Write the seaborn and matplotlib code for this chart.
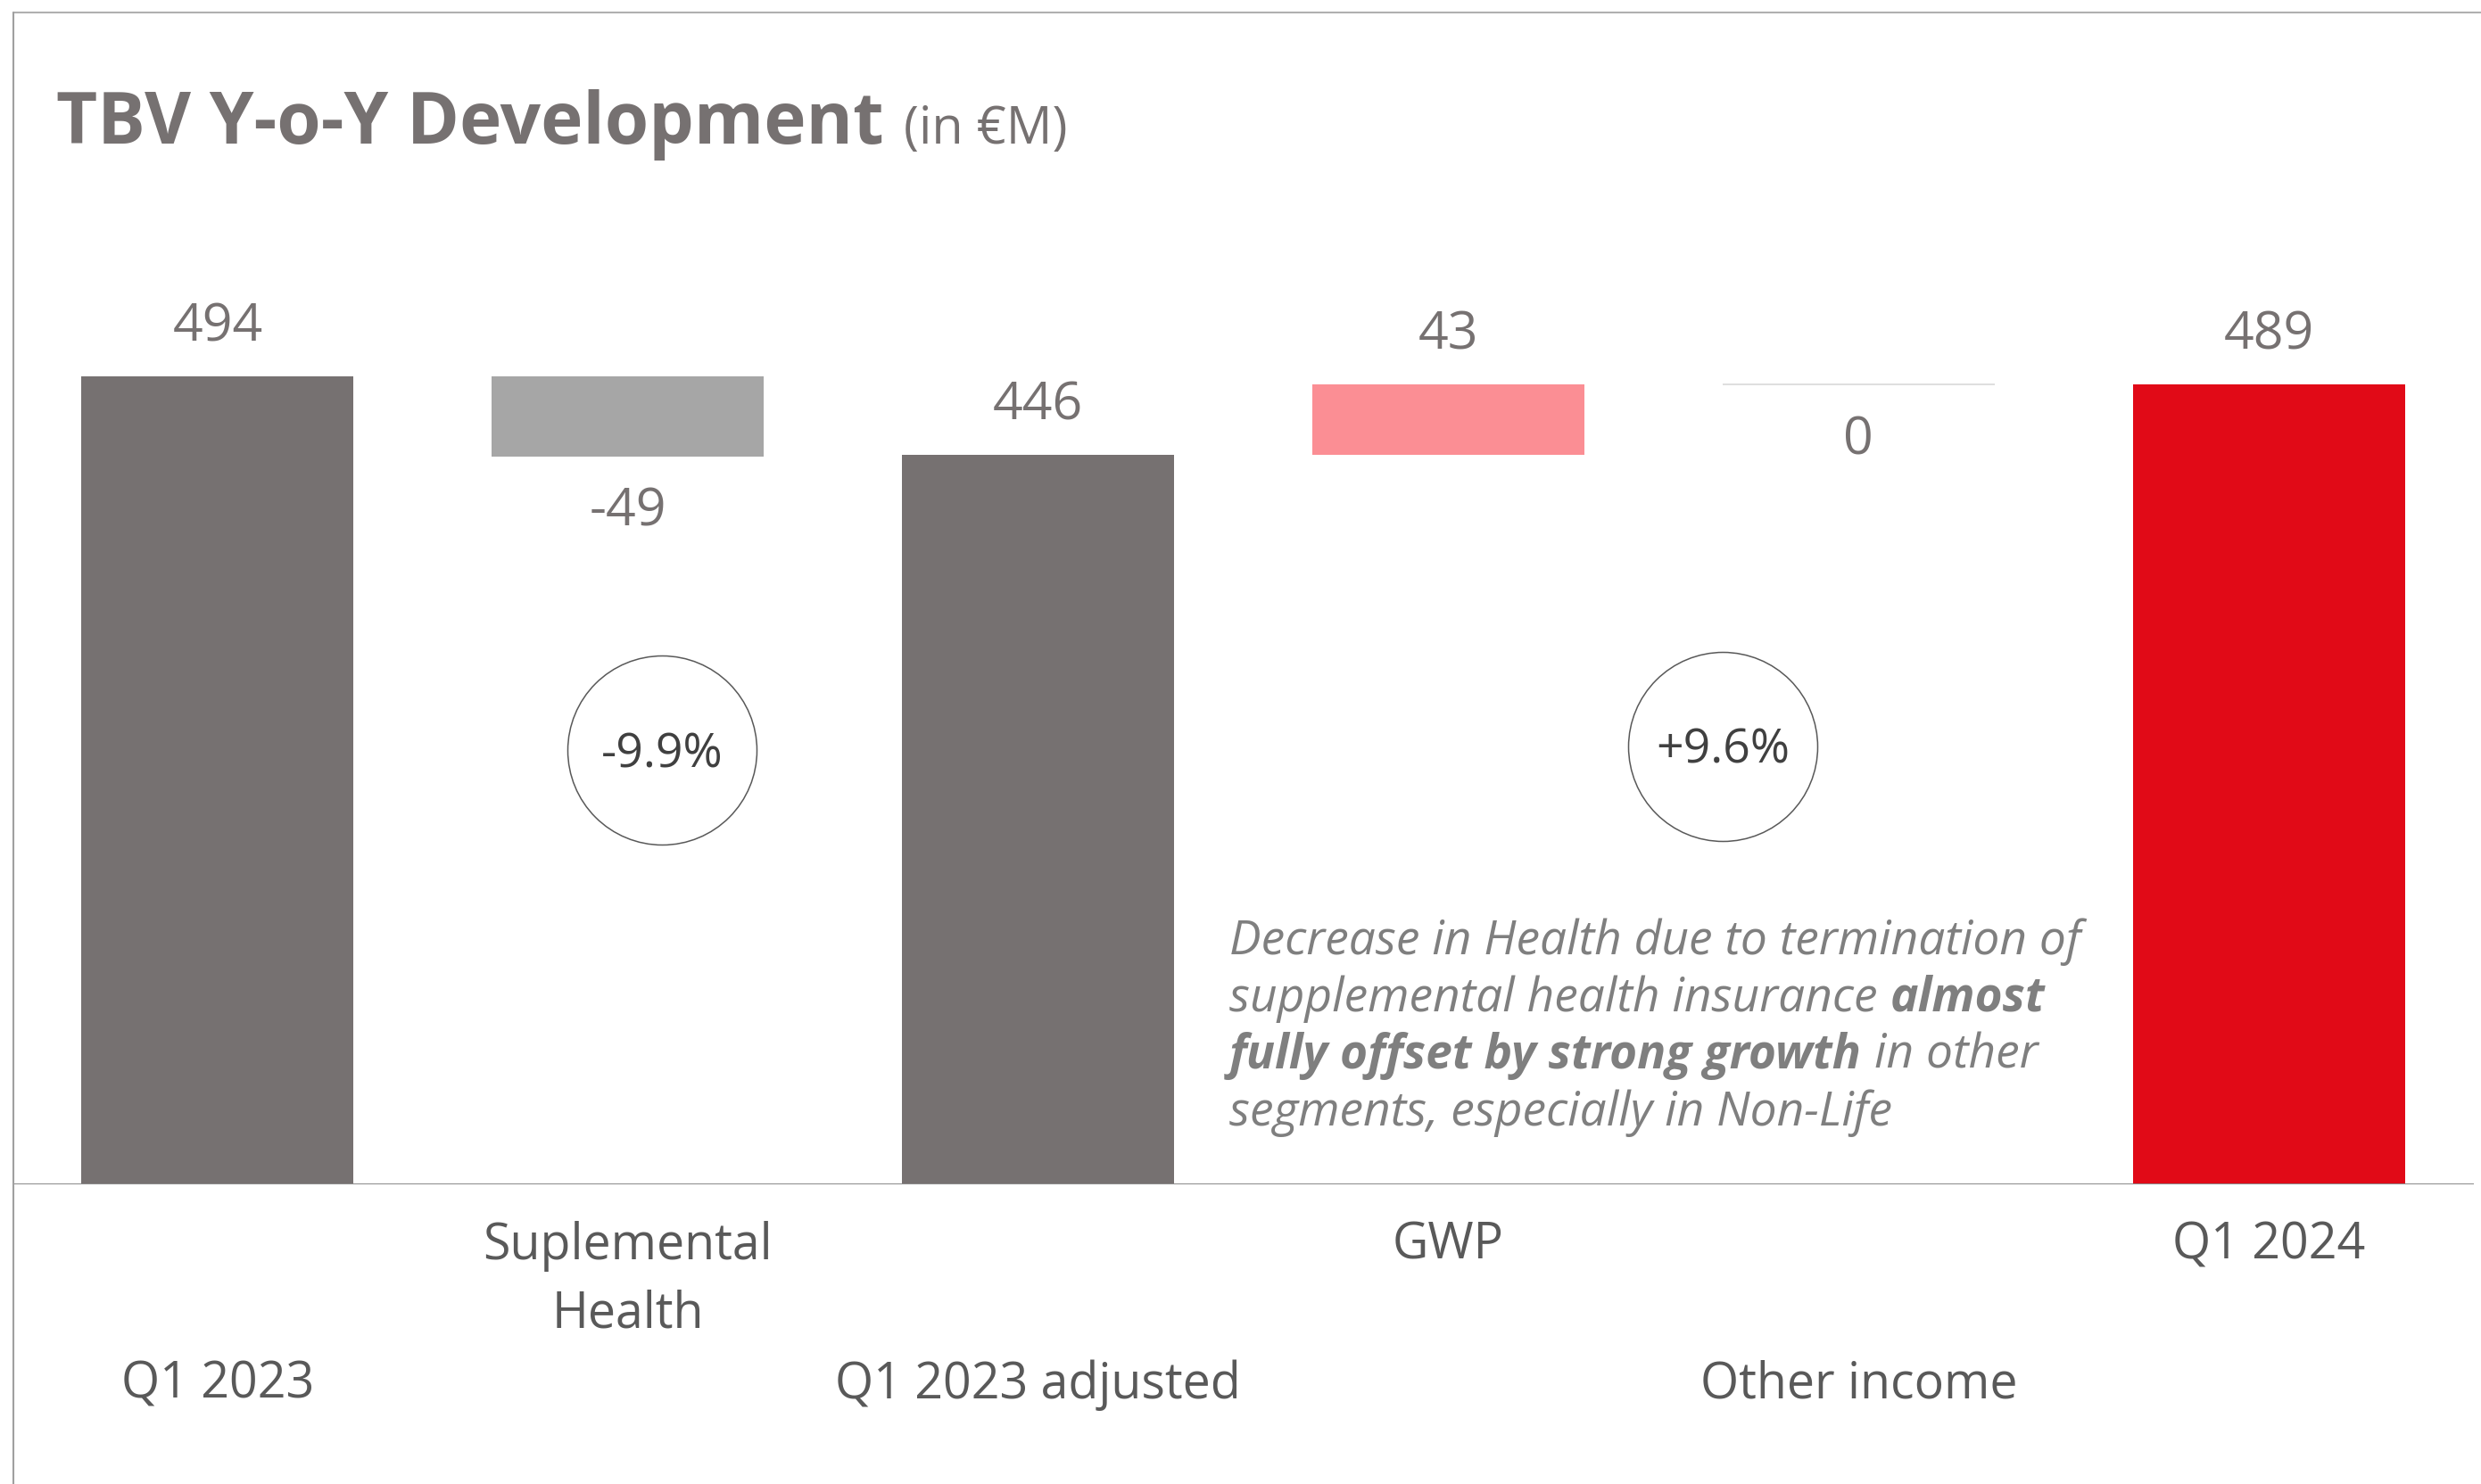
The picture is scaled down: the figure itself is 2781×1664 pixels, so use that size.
import matplotlib
matplotlib.use('Agg')
import matplotlib.pyplot as plt
from matplotlib.lines import Line2D
import pandas as pd
import seaborn as sns

# data
categories = ['Q1 2023', 'Suplemental\nHealth', 'Q1 2023 adjusted', 'GWP', 'Other income', 'Q1 2024']
values = [494, -49, 446, 43, 0, 489]
kinds = ['total', 'delta', 'total', 'delta', 'delta', 'total']
value_labels = ['494', '-49', '446', '43', '0', '489']
bar_colors = ['#767171', '#a6a6a6', '#767171', '#fb8e94', '#d9d9d9', '#e10a17']
changes = ['-9.9%', '+9.6%']
title = 'TBV Y-o-Y Development'
unit = '(in €M)'
note_lines = [
    [('Decrease in Health due to termination of', False)],
    [('supplemental health insurance', False), ('almost', True)],
    [('fully offset by strong growth', True), ('in other', False)],
    [('segments, especially in Non-Life', False)],
]

# waterfall geometry
bottoms, heights = [], []
running = 0
for v, k in zip(values, kinds):
    if k == 'total':
        bottoms.append(0)
        heights.append(v)
        running = v
    else:
        bottoms.append(min(running, running + v))
        heights.append(abs(v))
        running += v
df = pd.DataFrame({'category': categories, 'height': heights})

sns.set_theme(style='white')
plt.rcParams['font.family'] = ['Open Sans', 'DejaVu Sans']

W, H = 2781, 1665
fig = plt.figure(figsize=(W / 100, H / 100), dpi=100)


def fx(px):
    return px / W


def fy(py):
    return 1 - py / H


ax = fig.add_axes([fx(14), fy(1329), fx(2773) - fx(14), fy(15) - fy(1329)])
sns.barplot(data=df, x='category', y='height', order=categories, width=0.663,
            errorbar=None, color='#767171', ax=ax)

for patch, b, c, h in zip(ax.patches, bottoms, bar_colors, heights):
    patch.set_y(b)
    patch.set_facecolor(c)
    if h == 0:
        patch.set_edgecolor(c)
        patch.set_linewidth(1.2)
    else:
        patch.set_linewidth(0)

ax.set_xlim(-0.5, len(categories) - 0.5)
ax.set_ylim(0, 716.5)
ax.axhline(0, color='#8c8c8c', lw=2.2, zorder=5)
ax.set_xticks([])
ax.set_yticks([])
ax.set_xlabel('')
ax.set_ylabel('')
for s in ax.spines.values():
    s.set_visible(False)

# value labels
for i, (lab, v, b, h) in enumerate(zip(value_labels, values, bottoms, heights)):
    if v > 0:
        ax.annotate(lab, xy=(i, b + h), xytext=(0, 41 * 0.72), textcoords='offset points',
                    ha='center', va='baseline', fontsize=42.5, color='#767171')
    else:
        ax.annotate(lab, xy=(i, b), xytext=(0, -77 * 0.72), textcoords='offset points',
                    ha='center', va='baseline', fontsize=42.5, color='#767171')

# category labels, alternating rows
for i, lab in enumerate(categories):
    first = 83 if i % 2 else 239
    for j, line in enumerate(lab.split('\n')):
        ax.annotate(line, xy=(i, 0), xycoords=('data', 'axes fraction'),
                    xytext=(0, -(first + 77 * j) * 0.72), textcoords='offset points',
                    ha='center', va='baseline', fontsize=40, color='#595959')

# change circles
for txt, (cx, cy) in zip(changes, [(0.2639, 0.3706), (0.6948, 0.3737)]):
    ax.scatter([cx], [cy], transform=ax.transAxes, s=(212 * 0.72) ** 2,
               facecolor='white', edgecolor='#595959', linewidth=1.1, zorder=6,
               clip_on=False)
    ax.annotate(txt, xy=(cx, cy), xycoords='axes fraction', xytext=(0, -18 * 0.72),
                textcoords='offset points', ha='center', va='baseline',
                fontsize=38.5, color='#404040', zorder=7)

renderer = fig.canvas.get_renderer()

# title
t = fig.text(fx(63), fy(161), title, fontsize=57.5, fontweight='bold',
             color='#767171', va='baseline')
tw = t.get_window_extent(renderer).width
fig.text(fx(63 + tw + 22), fy(161), unit, fontsize=41.5, color='#767171', va='baseline')

# note with mixed weights
note_kw = dict(fontsize=38.3, style='italic', color='#7f7f7f', va='baseline')


def text_width(s, **kw):
    tmp = fig.text(0, 0, s, **kw)
    w = tmp.get_window_extent(renderer).width
    tmp.remove()
    return w


space_w = text_width('a a', **note_kw) - text_width('aa', **note_kw)
for k, line in enumerate(note_lines):
    x = 1378
    base = 1070 + 64 * k
    for seg, bold in line:
        tt = fig.text(fx(x), fy(base), seg, fontweight='bold' if bold else 'normal', **note_kw)
        x += tt.get_window_extent(renderer).width + space_w

# frame lines
fig.add_artist(Line2D([fx(15), 1], [fy(15), fy(15)], color='#b0b0b0', lw=1.5))
fig.add_artist(Line2D([fx(15), fx(15)], [fy(15), 0], color='#a0a0a0', lw=1.5))

fig.savefig('out.png', dpi=100)
